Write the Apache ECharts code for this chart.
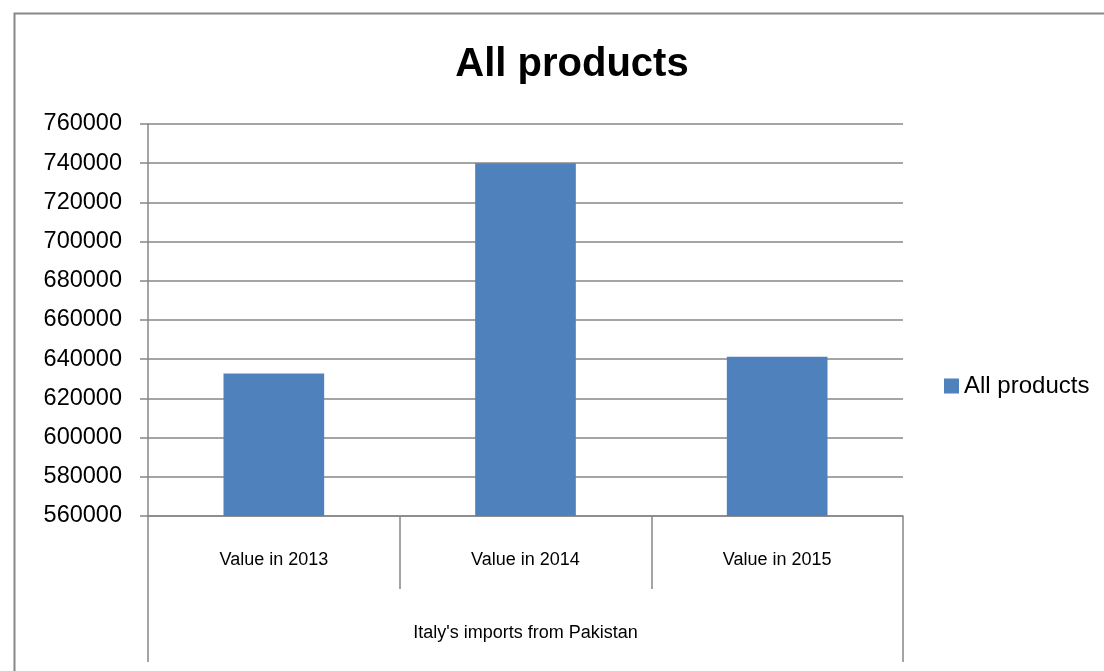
<!DOCTYPE html>
<html>
<head>
<meta charset="utf-8">
<script src="https://cdn.jsdelivr.net/npm/echarts@6/dist/echarts.min.js"></script>
<style>
html,body{margin:0;padding:0;background:#fff;}
#chart{width:1104px;height:671px;}
</style>
</head>
<body>
<div id="chart"></div>
<script>
const categories = ['Value in 2013', 'Value in 2014', 'Value in 2015'];
const groupLabel = ["Italy's imports from Pakistan"];
const seriesName = 'All products';
const values = [632700, 740000, 641200];
const yMin = 560000, yMax = 760000, yStep = 20000;

const chart = echarts.init(document.getElementById('chart'));
const gray = '#878787';
chart.setOption({
  animation: false,
  backgroundColor: '#fff',
  title: {
    text: 'All products',
    left: 567, top: 40, textAlign: 'center',
    textStyle: {fontFamily: 'Liberation Sans', fontWeight: 'bold', fontSize: 40, color: '#000'}
  },
  graphic: [{
    type: 'rect', left: 12, top: 11,
    shape: {width: 1100, height: 670},
    style: {fill: 'none', stroke: gray, lineWidth: 2}
  }],
  legend: {
    data: [seriesName], left: 939, top: 369, orient: 'vertical',
    icon: 'rect',
    itemWidth: 15, itemHeight: 15, itemGap: 6,
    textStyle: {fontFamily: 'Liberation Sans', fontSize: 24, color: '#000'}
  },
  grid: {left: 148, right: 201, top: 124, bottom: 155},
  xAxis: [{
    type: 'category', data: categories, position: 'bottom',
    axisLine: {lineStyle: {color: gray, width: 1.5}},
    axisTick: {show: true, length: 73, lineStyle: {color: gray, width: 1.5}},
    axisLabel: {margin: 35, fontFamily: 'Liberation Sans', fontSize: 18, color: '#000'}
  }, {
    type: 'category', data: groupLabel, position: 'bottom',
    axisLine: {show: false},
    axisTick: {show: true, length: 146, lineStyle: {color: gray, width: 1.5}},
    axisLabel: {margin: 108, fontFamily: 'Liberation Sans', fontSize: 18, color: '#000'}
  }],
  yAxis: {
    type: 'value', min: yMin, max: yMax, interval: yStep,
    axisLine: {show: true, lineStyle: {color: gray, width: 1.5}},
    axisTick: {show: true, length: 8, lineStyle: {color: gray, width: 1.5}},
    splitLine: {lineStyle: {color: gray, width: 1.5}},
    axisLabel: {margin: 26, fontFamily: 'Liberation Sans', fontSize: 23.5, color: '#000',
      formatter: v => String(v)}
  },
  series: [{
    name: seriesName, type: 'bar', data: values, xAxisIndex: 0,
    barWidth: '40%',
    itemStyle: {color: '#4f81bd'}
  }]
});
</script>
</body>
</html>
